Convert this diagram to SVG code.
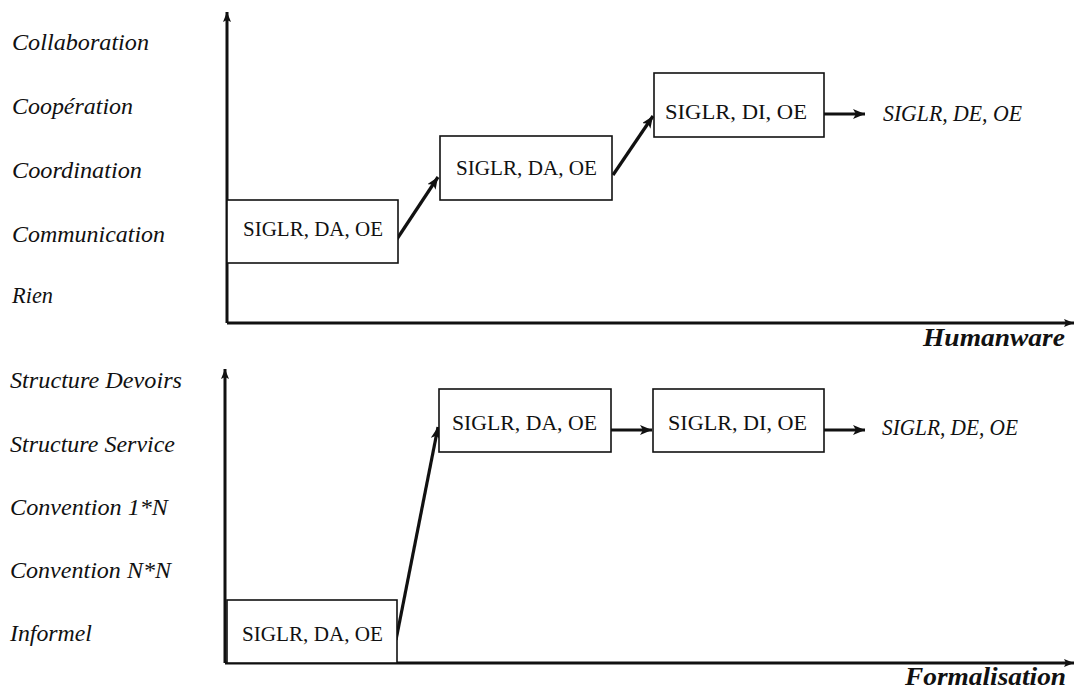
<svg xmlns="http://www.w3.org/2000/svg" width="1076" height="688" viewBox="0 0 1076 688">
<style>
.lab{font-family:"Liberation Serif","Times New Roman",serif;font-style:italic;font-size:23px;fill:#111}
.box{fill:#fff;stroke:#111;stroke-width:1.6}
.bt{font-family:"Liberation Serif","Times New Roman",serif;font-size:22px;fill:#111}
.ax{font-family:"Liberation Serif","Times New Roman",serif;font-style:italic;font-weight:bold;font-size:25px;fill:#111}
.axis{stroke:#111;stroke-width:3;fill:none}
.con{stroke:#111;stroke-width:3.2;fill:none}
</style>
<defs>
<marker id="ah" markerUnits="userSpaceOnUse" markerWidth="14" markerHeight="12" refX="12" refY="5" orient="auto">
<path d="M0,0 L12,5 L0,10 L3,5 Z" fill="#111"/>
</marker>
<marker id="axh" markerUnits="userSpaceOnUse" markerWidth="12" markerHeight="10" refX="10" refY="4" orient="auto">
<path d="M0,0 L10,4 L0,8 L2,4 Z" fill="#111"/>
</marker>
</defs>
<rect width="1076" height="688" fill="#fff"/>

<g id="axes">
<line class="axis" x1="227" y1="323" x2="227" y2="12" marker-end="url(#axh)"/>
<line class="axis" x1="227" y1="323" x2="1074" y2="323" marker-end="url(#axh)"/>
<line class="axis" x1="225" y1="663" x2="225" y2="369" marker-end="url(#axh)"/>
<line class="axis" x1="225" y1="663" x2="1074" y2="663" marker-end="url(#axh)"/>
</g>

<g id="labels-top">
<text class="lab" x="12" y="50" textLength="137" lengthAdjust="spacingAndGlyphs">Collaboration</text>
<text class="lab" x="12" y="114" textLength="121" lengthAdjust="spacingAndGlyphs">Coopération</text>
<text class="lab" x="12" y="178" textLength="130" lengthAdjust="spacingAndGlyphs">Coordination</text>
<text class="lab" x="12" y="242" textLength="153" lengthAdjust="spacingAndGlyphs">Communication</text>
<text class="lab" x="12" y="303" textLength="41" lengthAdjust="spacingAndGlyphs">Rien</text>
<text class="ax" x="923" y="346" textLength="142" lengthAdjust="spacingAndGlyphs">Humanware</text>
</g>

<g id="labels-bottom">
<text class="lab" x="10" y="388" textLength="172" lengthAdjust="spacingAndGlyphs">Structure Devoirs</text>
<text class="lab" x="10" y="452" textLength="165" lengthAdjust="spacingAndGlyphs">Structure Service</text>
<text class="lab" x="10" y="515" textLength="158" lengthAdjust="spacingAndGlyphs">Convention 1*N</text>
<text class="lab" x="10" y="578" textLength="161" lengthAdjust="spacingAndGlyphs">Convention N*N</text>
<text class="lab" x="10" y="641" textLength="82" lengthAdjust="spacingAndGlyphs">Informel</text>
<text class="ax" x="905" y="685" textLength="161" lengthAdjust="spacingAndGlyphs">Formalisation</text>
</g>

<g id="connectors">
<line class="con" x1="395" y1="242" x2="438" y2="177" marker-end="url(#ah)"/>
<line class="con" x1="613" y1="175" x2="653" y2="116" marker-end="url(#ah)"/>
<line class="con" x1="824" y1="114" x2="865" y2="114" marker-end="url(#ah)"/>
<line class="con" x1="396" y1="640" x2="438" y2="427" marker-end="url(#ah)"/>
<line class="con" x1="609" y1="430" x2="652" y2="430" marker-end="url(#ah)"/>
<line class="con" x1="824" y1="430" x2="865" y2="430" marker-end="url(#ah)"/>
</g>

<g id="t-box1">
<rect class="box" x="227" y="200" width="171" height="63"/>
<text class="bt" x="243" y="236" textLength="140" lengthAdjust="spacingAndGlyphs">SIGLR, DA, OE</text>
</g>
<g id="t-box2">
<rect class="box" x="440" y="136" width="172" height="64"/>
<text class="bt" x="456" y="175" textLength="141" lengthAdjust="spacingAndGlyphs">SIGLR, DA, OE</text>
</g>
<g id="t-box3">
<rect class="box" x="654" y="73" width="170" height="64"/>
<text class="bt" x="665" y="119" textLength="142" lengthAdjust="spacingAndGlyphs">SIGLR, DI, OE</text>
</g>
<g id="t-next">
<text class="lab" x="883" y="121" font-size="20" textLength="139" lengthAdjust="spacingAndGlyphs">SIGLR, DE, OE</text>
</g>

<g id="b-box1">
<rect class="box" x="227" y="600" width="170" height="63"/>
<text class="bt" x="242" y="641" textLength="141" lengthAdjust="spacingAndGlyphs">SIGLR, DA, OE</text>
</g>
<g id="b-box2">
<rect class="box" x="439" y="389" width="172" height="63"/>
<text class="bt" x="452" y="430" textLength="145" lengthAdjust="spacingAndGlyphs">SIGLR, DA, OE</text>
</g>
<g id="b-box3">
<rect class="box" x="653" y="389" width="171" height="63"/>
<text class="bt" x="668" y="430" textLength="139" lengthAdjust="spacingAndGlyphs">SIGLR, DI, OE</text>
</g>
<g id="b-next">
<text class="lab" x="882" y="435" font-size="20" textLength="136" lengthAdjust="spacingAndGlyphs">SIGLR, DE, OE</text>
</g>
</svg>
